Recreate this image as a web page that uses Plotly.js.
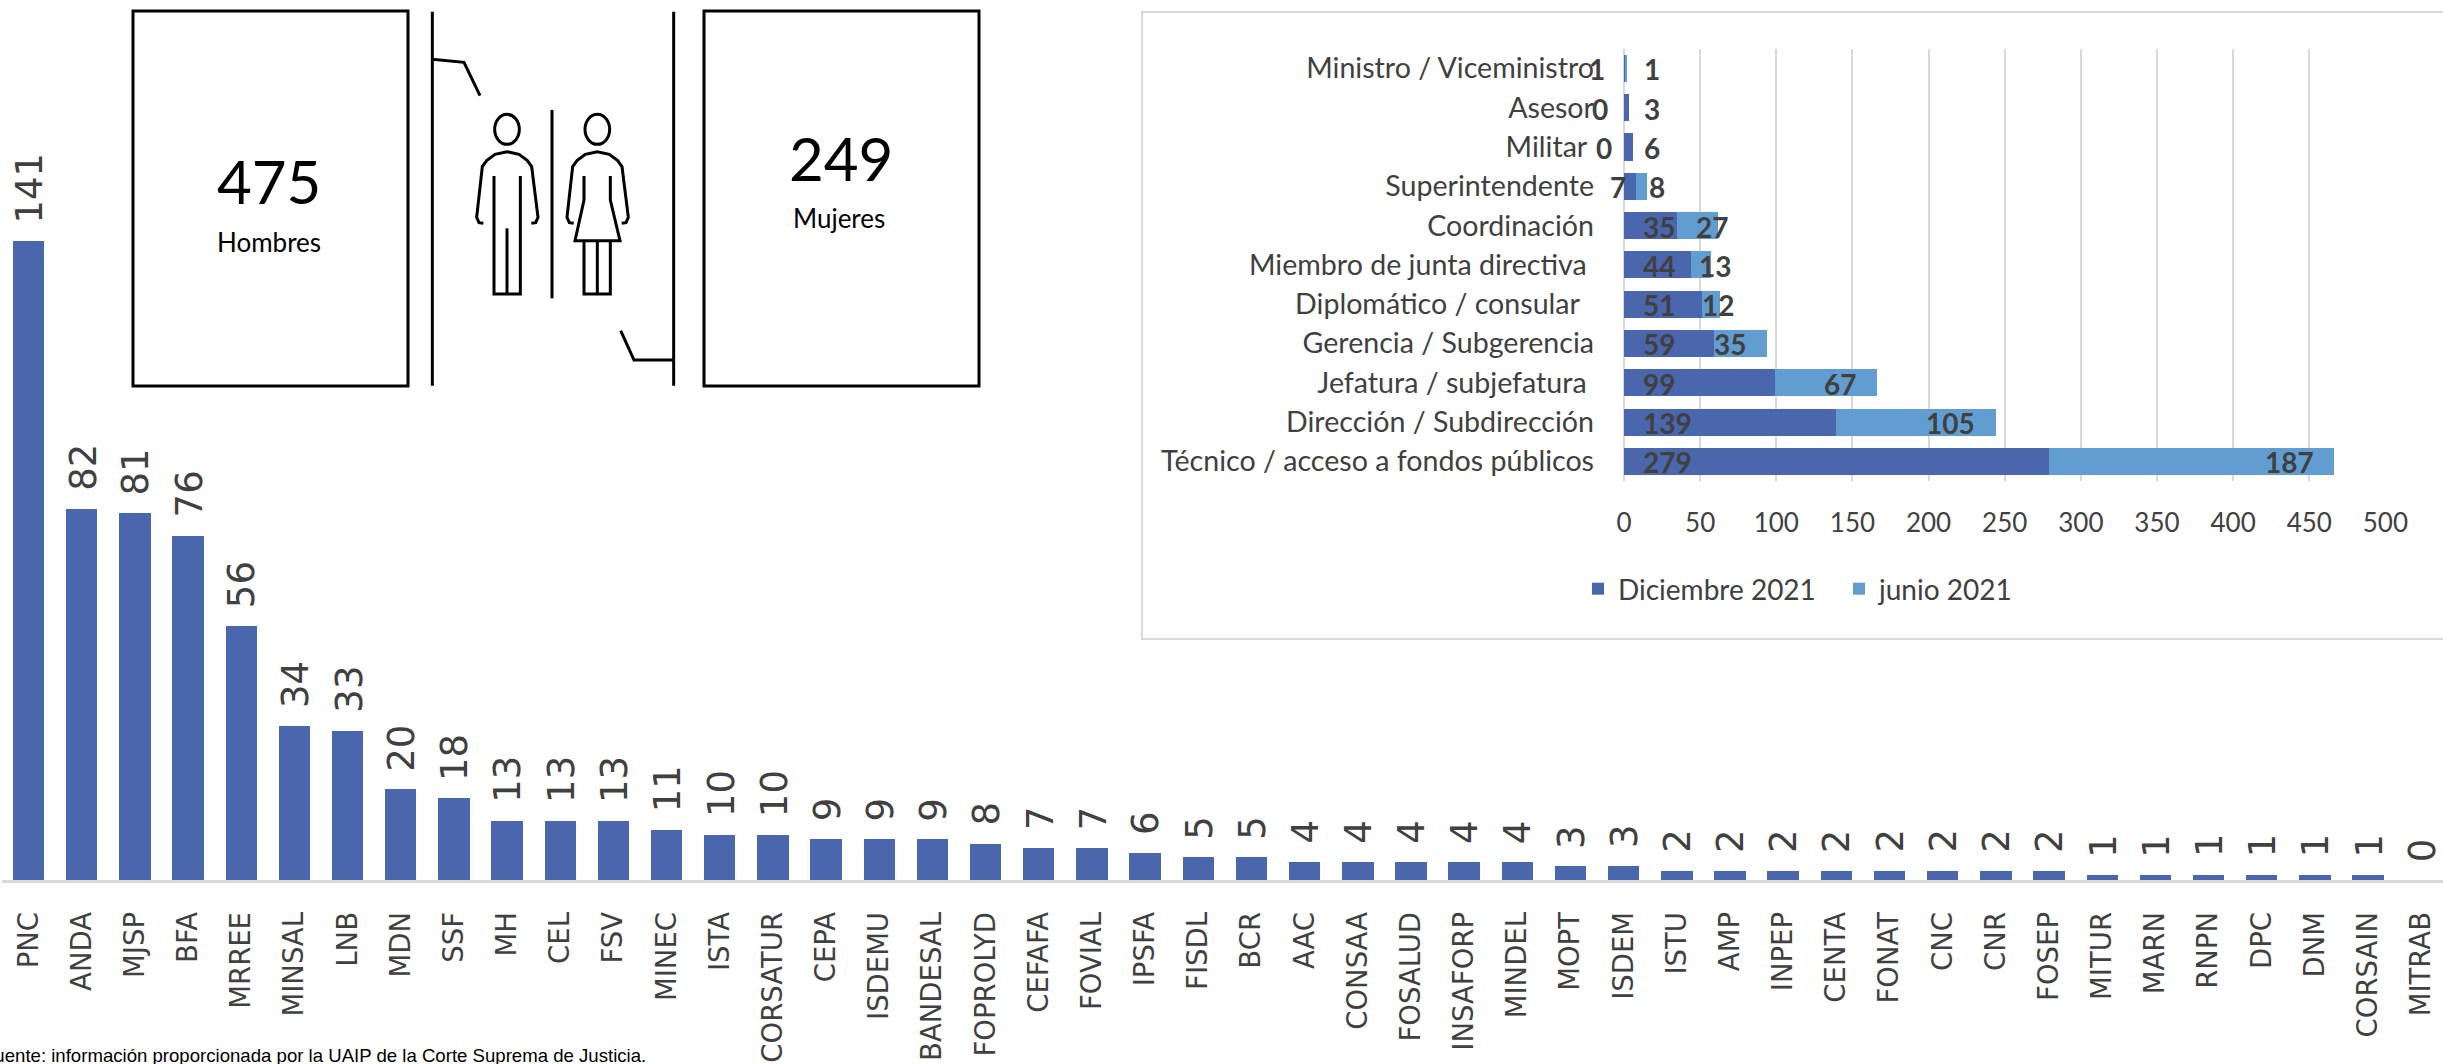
<!DOCTYPE html>
<html><head><meta charset="utf-8">
<script src="https://cdn.plot.ly/plotly-3.0.1.min.js"></script>
<style>html,body{margin:0;padding:0;background:#fff;overflow:hidden}#c{width:2443px;height:1064px}</style>
</head><body><div id="c"></div><script>
const institutions=["PNC","ANDA","MJSP","BFA","MRREE","MINSAL","LNB","MDN","SSF","MH","CEL","FSV","MINEC","ISTA","CORSATUR","CEPA","ISDEMU","BANDESAL","FOPROLYD","CEFAFA","FOVIAL","IPSFA","FISDL","BCR","AAC","CONSAA","FOSALUD","INSAFORP","MINDEL","MOPT","ISDEM","ISTU","AMP","INPEP","CENTA","FONAT","CNC","CNR","FOSEP","MITUR","MARN","RNPN","DPC","DNM","CORSAIN","MITRAB"];
const institutionValues=[141,82,81,76,56,34,33,20,18,13,13,13,11,10,10,9,9,9,8,7,7,6,5,5,4,4,4,4,4,3,3,2,2,2,2,2,2,2,2,1,1,1,1,1,1,0];
const positions=["Ministro / Viceministro","Asesor","Militar","Superintendente","Coordinación","Miembro de junta directiva","Diplomático / consular","Gerencia / Subgerencia","Jefatura / subjefatura","Dirección / Subdirección","Técnico / acceso a fondos públicos"];
const positionTicks=["Ministro / Viceministro","Asesor","Militar\u00a0","Superintendente","Coordinación","Miembro de junta directiva\u00a0","Diplomático / consular\u00a0\u00a0","Gerencia / Subgerencia","Jefatura / subjefatura\u00a0","Dirección / Subdirección","Técnico / acceso a fondos públicos"];
const diciembre=[1,3,6,8,35,44,51,59,99,139,279];
const junio=[1,0,0,7,27,13,12,35,67,105,187];
const leftLabels=[1,0,0,7,35,44,51,59,99,139,279];
const rightLabels=[1,3,6,8,27,13,12,35,67,105,187];
const leftLabelShift=[-27,-24,-20,-6,35,35,35,35,35,43,43];
const rightLabelShift=[25,23,19,10,-6,4,-2,-37,-37,-45,-44];
const hombres=475, mujeres=249;

const W=2443,H=1064;
const fx=x=>x/W, fy=y=>1-y/H;
const dark="#4A66AC", light="#629DD1", grey="#404040";
const lato="Lato, Carlito, sans-serif", dv="'DejaVu Sans', Verdana, sans-serif";

function P(pts){return pts.map((p,i)=>(i?"L":"M")+fx(p[0])+","+fy(p[1])).join(" ");}
const z=(x,y)=>[420+x/3,y/3];
function zp(pts){return P(pts.map(p=>z(p[0],p[1])));}
function line(path,w){return {type:"path",xref:"paper",yref:"paper",path:path,line:{color:"#000",width:w||3},layer:"above"};}
function rect(x0,y0,x1,y1,col,w){return {type:"rect",xref:"paper",yref:"paper",x0:fx(x0),x1:fx(x1),y0:fy(y0),y1:fy(y1),line:{color:col,width:w},fillcolor:"rgba(0,0,0,0)",layer:"below"};}
function ell(cx,cy,rx,ry){const a=z(cx-rx,cy-ry),b=z(cx+rx,cy+ry);return {type:"circle",xref:"paper",yref:"paper",x0:fx(a[0]),x1:fx(b[0]),y0:fy(a[1]),y1:fy(b[1]),line:{color:"#000",width:3},layer:"above"};}
function outline(d){
  return zp([[190+d,670],[177+d,668],[170+d,652],[187+d,500],[200+d,482],[225+d,463],[261+d,455],[297+d,463],[322+d,482],[335+d,500],[354+d,652],[347+d,668],[334+d,670]]);
}
const shapes=[
  rect(133,11,408,386,"#000",3),
  rect(704,11,979,386,"#000",3),
  rect(1142,12,2460,639,"#D9D9D9",2),
  line(zp([[37,35],[37,1157]])),
  line(zp([[761,35],[761,1157]])),
  line(zp([[37,178],[132,187],[180,287]])),
  line(zp([[602,992],[642,1080],[761,1080]])),
  line(zp([[396,330],[396,895]])),
  ell(261,388,37,45),
  line(outline(0)),
  line(zp([[222,528],[222,882],[301,882],[301,528]])),
  line(zp([[261,685],[261,882]])),
  ell(532,388,37,45),
  line(outline(271)),
  line(zp([[492,528],[492,600],[465,722],[600,722],[571,600],[571,528]])),
  line(zp([[492,722],[492,882],[571,882],[571,722]])),
  line(zp([[532,722],[532,882]]))
];

const annotations=[];
institutions.forEach((c,i)=>annotations.push({xref:"x",yref:"y",x:c,y:institutionValues[i],text:String(institutionValues[i]),showarrow:false,textangle:-90,yanchor:"bottom",xanchor:"center",yshift:16,xshift:1,font:{family:dv,size:37,color:grey}}));
positions.forEach((c,i)=>{
  annotations.push({xref:"x2",yref:"y2",x:0,y:c,text:String(leftLabels[i]),showarrow:false,xshift:leftLabelShift[i],yshift:-1,font:{family:lato,size:28,color:grey,weight:700}});
  annotations.push({xref:"x2",yref:"y2",x:diciembre[i]+junio[i],y:c,text:String(rightLabels[i]),showarrow:false,xshift:rightLabelShift[i],yshift:-1,font:{family:lato,size:28,color:grey,weight:700}});
});
function pageText(t,x,y,size,extra){annotations.push(Object.assign({xref:"paper",yref:"paper",x:fx(x),y:fy(y),text:t,showarrow:false,xanchor:"center",yanchor:"middle",font:{family:lato,size:size,color:"#000"}},extra||{}));}
pageText(String(hombres),269,181,60);
pageText("Hombres",269,242,26);
pageText(String(mujeres),841,158,60);
pageText("Mujeres",839,218,26);
pageText("Fuente: información proporcionada por la UAIP de la Corte Suprema de Justicia.",648,1055,18.6,{xanchor:"right",font:{family:"'Liberation Sans', Arial, sans-serif",size:18.6,color:"#000"}});

const traces=[
 {type:"bar",x:institutions,y:institutionValues,xaxis:"x",yaxis:"y",marker:{color:dark},width:0.59,showlegend:false,hoverinfo:"x+y"},
 {type:"bar",orientation:"h",name:"Diciembre 2021",y:positions,x:diciembre,xaxis:"x2",yaxis:"y2",marker:{color:dark},width:0.69},
 {type:"bar",orientation:"h",name:"junio 2021",y:positions,x:junio,xaxis:"x2",yaxis:"y2",marker:{color:light},width:0.69}
];
const layout={
 width:W,height:H,margin:{l:0,r:0,t:0,b:0,pad:0},paper_bgcolor:"#fff",plot_bgcolor:"rgba(0,0,0,0)",
 barmode:"stack",bargap:0.4,
 font:{family:lato,color:grey},
 xaxis:{domain:[fx(2),1],range:[-0.5,45.41],type:"category",categoryorder:"array",categoryarray:institutions,tickangle:-90,ticks:"",ticklabelstandoff:18,showgrid:false,zeroline:false,showline:true,linecolor:"#D9D9D9",linewidth:3,anchor:"y",tickfont:{family:dv,size:27.5,color:grey},automargin:false,tickmode:"array",tickvals:institutions,ticktext:institutions},
 yaxis:{domain:[fy(880),1],range:[0,194.3],visible:false,anchor:"x",fixedrange:true},
 xaxis2:{domain:[fx(1624),fx(2385.4)],range:[0,500],anchor:"y2",tick0:0,dtick:50,ticks:"",showgrid:true,gridcolor:"#D9D9D9",gridwidth:2,zeroline:true,zerolinecolor:"#D9D9D9",zerolinewidth:2,showline:false,ticklabelstandoff:24,tickfont:{family:lato,size:26,color:grey},automargin:false},
 yaxis2:{domain:[fy(481),fy(48.75)],type:"category",categoryorder:"array",categoryarray:positions,autorange:false,range:[10.5,-0.5],anchor:"x2",ticks:"",showgrid:false,zeroline:false,showline:false,ticklabelstandoff:29,tickmode:"array",tickvals:positions,ticktext:positionTicks,tickfont:{family:lato,size:28.6,color:grey},automargin:false},
 legend:{orientation:"h",x:fx(1578),y:fy(589),xanchor:"left",yanchor:"middle",font:{family:lato,size:28,color:grey},bgcolor:"rgba(0,0,0,0)",traceorder:"normal",itemwidth:30,entrywidth:216,entrywidthmode:"pixels"},
 shapes:shapes,annotations:annotations,showlegend:true
};
Plotly.newPlot("c",traces,layout,{displayModeBar:false,responsive:false});
</script></body></html>
